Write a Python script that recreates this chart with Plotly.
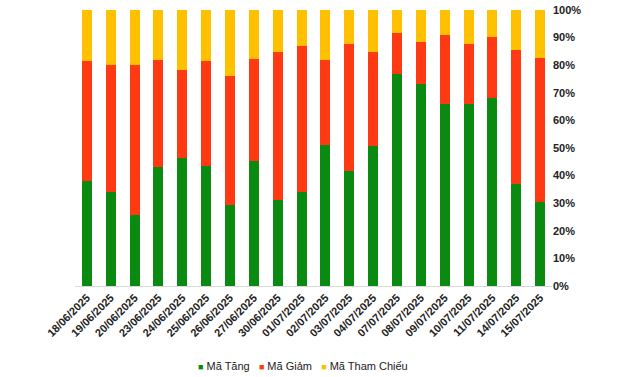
import plotly.graph_objects as go

dates = ["18/06/2025", "19/06/2025", "20/06/2025", "23/06/2025", "24/06/2025",
         "25/06/2025", "26/06/2025", "27/06/2025", "30/06/2025", "01/07/2025",
         "02/07/2025", "03/07/2025", "04/07/2025", "07/07/2025", "08/07/2025",
         "09/07/2025", "10/07/2025", "11/07/2025", "14/07/2025", "15/07/2025"]
ma_tang = [38.0, 34.1, 25.7, 43.1, 46.5, 43.5, 29.3, 45.3, 31.2, 34.1,
           51.1, 41.7, 50.7, 76.8, 73.2, 65.9, 65.9, 68.1, 37.0, 30.4]
ma_giam = [43.5, 46.0, 54.4, 38.8, 31.8, 38.0, 46.8, 36.9, 53.6, 52.9,
           30.8, 46.0, 34.1, 14.9, 15.2, 25.0, 21.8, 22.1, 48.5, 52.2]
ma_tham_chieu = [18.5, 19.9, 19.9, 18.1, 21.7, 18.5, 23.9, 17.8, 15.2, 13.0,
                 18.1, 12.3, 15.2, 8.3, 11.6, 9.1, 12.3, 9.8, 14.5, 17.4]

series = [("Mã Tăng", ma_tang, "#0B8A12"),
          ("Mã Giảm", ma_giam, "#FF3A13"),
          ("Mã Tham Chiếu", ma_tham_chieu, "#FFC000")]

fig = go.Figure()
for name, vals, color in series:
    fig.add_trace(go.Bar(x=dates, y=[v / 100 for v in vals], name=name,
                         marker=dict(color=color, line=dict(width=0))))

# compact legend (as in the source chart) built from series names/colours
legend_text = "\u00a0\u00a0\u00a0".join(
    f"<span style='color:{color};font-size:9px'>■</span>\u00a0{name}"
    for name, _, color in series)

font_family = "Liberation Sans, Arial, sans-serif"
fig.add_annotation(text=legend_text, xref="paper", yref="paper",
                   x=0.478, y=-0.29, xanchor="center", yanchor="middle",
                   showarrow=False,
                   font=dict(family=font_family, size=11, color="#222"))

fig.update_layout(
    width=640, height=377,
    barmode="stack", bargap=0.58,
    plot_bgcolor="white", paper_bgcolor="white",
    margin=dict(l=75, r=88, t=10, b=91, autoexpand=False),
    showlegend=False,
    xaxis=dict(type="category", tickangle=-45, showgrid=False, automargin=False,
               showline=True, linecolor="#d9d9d9", linewidth=1, ticks="",
               tickfont=dict(family=font_family, size=11, color="#222", weight="bold")),
    yaxis=dict(side="right", range=[0, 1], dtick=0.1, tickformat=".0%", automargin=False,
               showgrid=False, zeroline=False, showline=False, ticks="",
               tickfont=dict(family=font_family, size=11, color="#222", weight="bold")),
)

fig.write_html("out.html", config={"displayModeBar": False},
               post_script="document.body.style.margin='0';document.body.style.padding='0';")
